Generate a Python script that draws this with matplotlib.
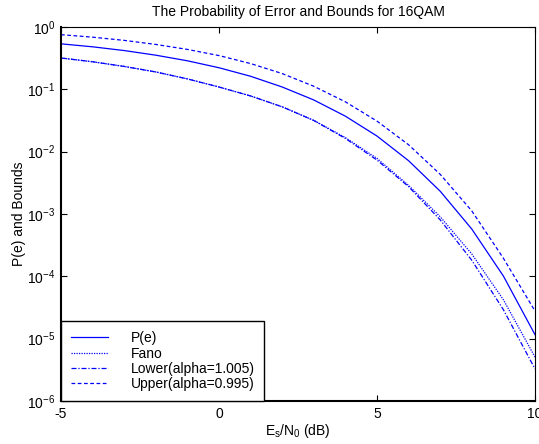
import matplotlib
matplotlib.use("Agg")
import matplotlib.pyplot as plt
from matplotlib.ticker import LogLocator, LogFormatterMathtext, FixedLocator, NullLocator

plt.rcParams['font.family'] = ['Liberation Sans', 'DejaVu Sans']
plt.rcParams['mathtext.fontset'] = 'custom'
plt.rcParams['mathtext.rm'] = 'Liberation Sans'
plt.rcParams['mathtext.it'] = 'Liberation Sans:italic'
plt.rcParams['mathtext.default'] = 'regular'
plt.rcParams['axes.unicode_minus'] = False

# Data
snr_db = [-5, -4, -3, -2, -1, 0, 1, 2, 3, 4, 5, 6, 7, 8, 9, 10]
p_e = [0.537, 0.481, 0.419, 0.353, 0.287, 0.222, 0.162, 0.109, 0.0675, 0.0371,
       0.0178, 0.00716, 0.00232, 5.73e-4, 1.01e-4, 1.16e-5]
fano = [0.318, 0.277, 0.233, 0.190, 0.147, 0.109, 0.0783, 0.0524, 0.0318, 0.0168,
        0.0078, 0.00288, 9.04e-4, 2.28e-4, 4.21e-5, 5.06e-6]
lower = [0.318, 0.277, 0.233, 0.190, 0.147, 0.109, 0.0783, 0.0524, 0.0316, 0.0163,
         0.00733, 0.00275, 8.05e-4, 1.81e-4, 2.91e-5, 3.27e-6]
upper = [0.753, 0.687, 0.610, 0.525, 0.437, 0.348, 0.259, 0.179, 0.112, 0.0630,
         0.0309, 0.0129, 0.00433, 0.00112, 1.95e-4, 2.78e-5]
labels = ['P(e)', 'Fano', 'Lower(alpha=1.005)', 'Upper(alpha=0.995)']

fig = plt.figure(figsize=(5.39, 4.44), dpi=100)
ax = fig.add_axes([61/539, 1-401/444, (535-61)/539, (401-27)/444])

blue = '#0000ff'
lw = 0.9
ax.semilogy(snr_db, p_e, color=blue, lw=lw, ls='-', label=labels[0])
ax.semilogy(snr_db, fano, color=blue, lw=lw, ls=(0, (1, 1)), label=labels[1])
ax.semilogy(snr_db, lower, color=blue, lw=lw, ls=(0, (4, 1.5, 1, 1.5)), label=labels[2])
ax.semilogy(snr_db, upper, color=blue, lw=lw, ls=(0, (3, 2)), label=labels[3])

ax.set_xlim(-5, 10)
ax.set_ylim(1e-6, 1e0)
ax.xaxis.set_major_locator(FixedLocator([-5, 0, 5, 10]))
ax.yaxis.set_major_locator(LogLocator(base=10, numticks=10))
ax.yaxis.set_minor_locator(NullLocator())
ax.yaxis.set_major_formatter(LogFormatterMathtext())
ax.tick_params(direction='in', top=True, right=True, length=4, width=0.8,
               labelsize=10, pad=4)
for s in ax.spines.values():
    s.set_linewidth(0.8)
ax.spines['left'].set_linewidth(1.5)
ax.spines['bottom'].set_linewidth(1.5)

ax.set_title('The Probability of Error and Bounds for 16QAM', fontsize=10, pad=8)
ax.set_xlabel(r'E$_\mathregular{s}$/N$_\mathregular{0}$ (dB)', fontsize=10, labelpad=1)
ax.set_ylabel('P(e) and Bounds', fontsize=10, labelpad=1)

leg = ax.legend(loc='lower left', bbox_to_anchor=(0, 0), borderaxespad=0,
                fancybox=False, edgecolor='black', framealpha=1, fontsize=10,
                handlelength=2.7, handletextpad=1.6, labelspacing=0.1,
                borderpad=0.7)
leg.get_frame().set_linewidth(1.0)

fig.savefig('out.png', dpi=100)
